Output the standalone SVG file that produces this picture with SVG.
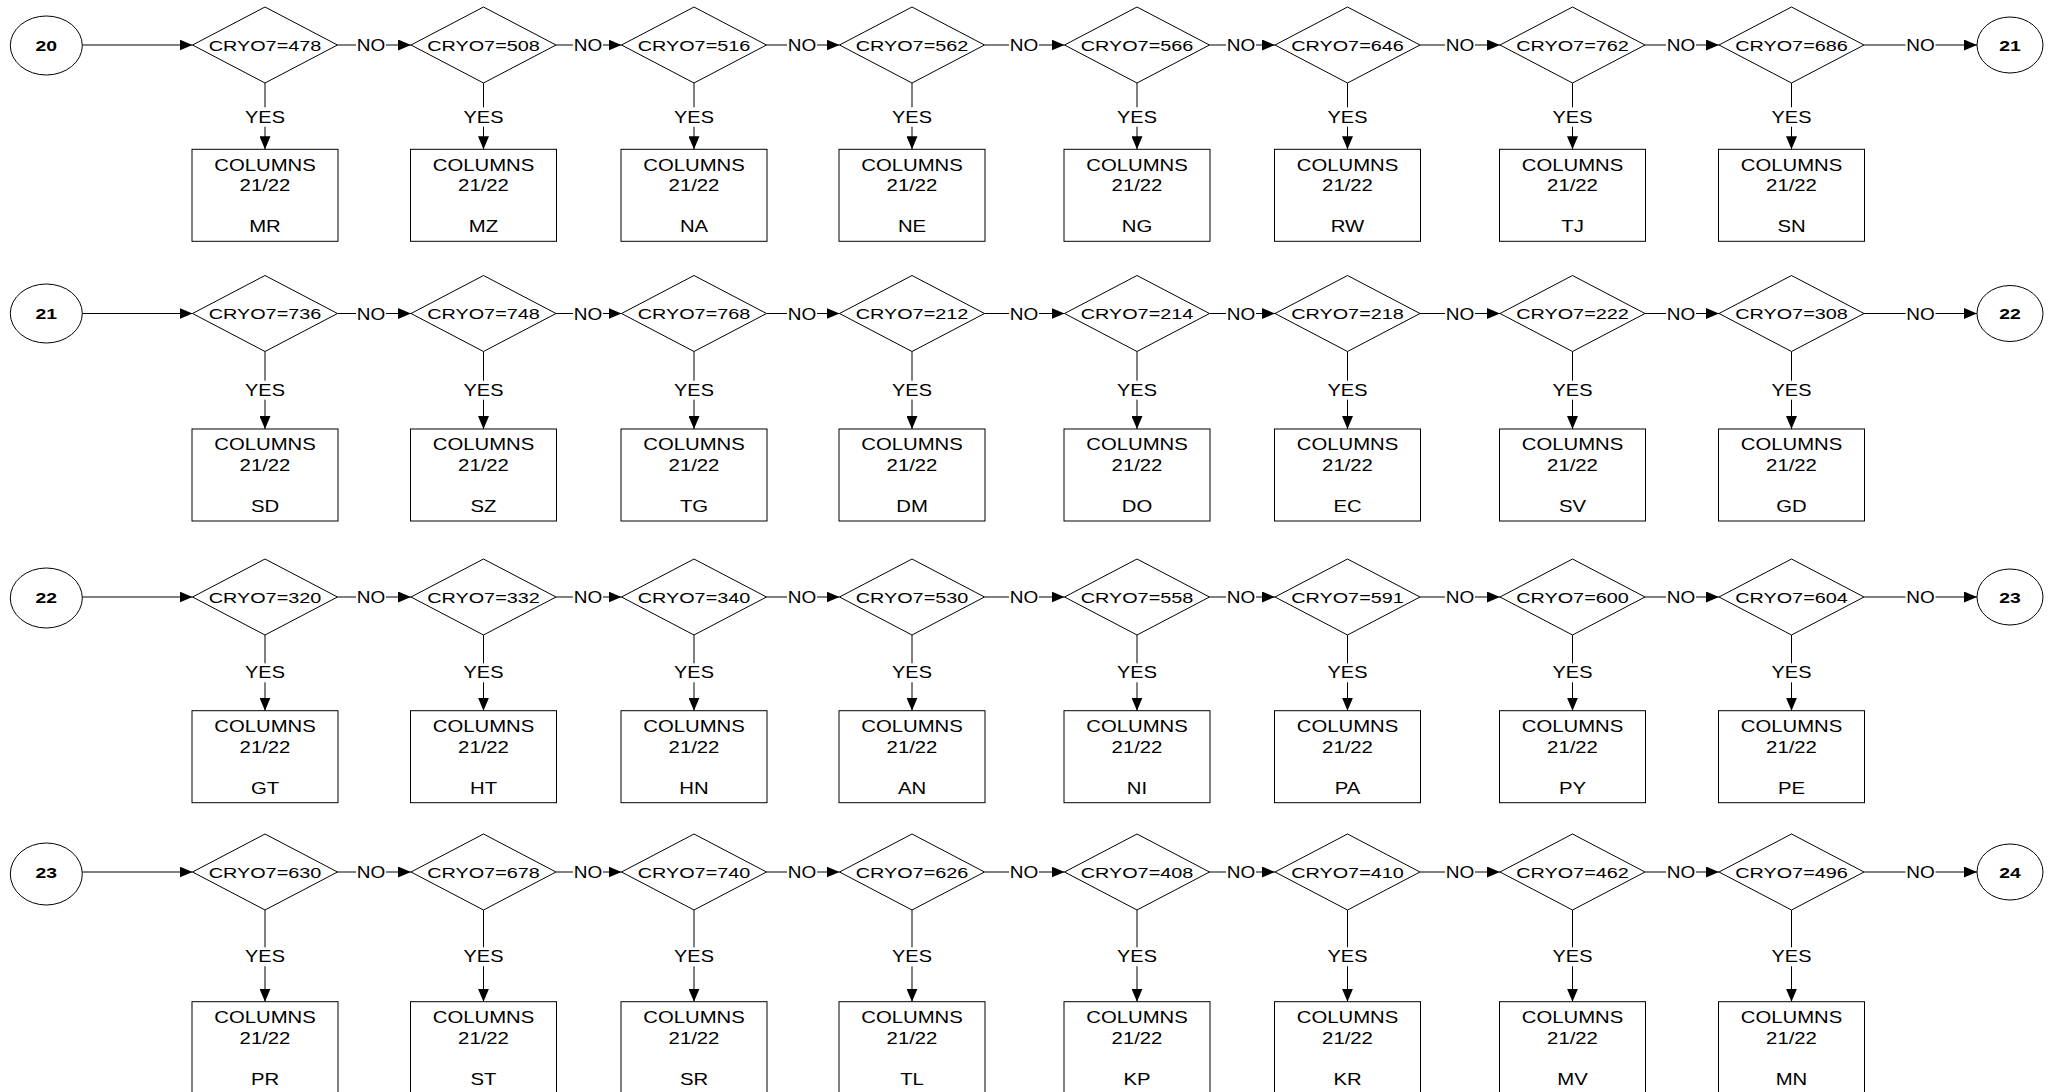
<svg xmlns="http://www.w3.org/2000/svg" width="2052" height="1092" viewBox="0 0 2052 1092">
<defs>
<marker id="ah" markerUnits="userSpaceOnUse" markerWidth="13" markerHeight="11" refX="13" refY="5.5" orient="auto"><path d="M0,0 L13,5.5 L0,11 z" fill="#000"/></marker>
<style>
.s{fill:#fff;stroke:#000;stroke-width:1}
#conn line{stroke:#000;stroke-width:1}
.a{marker-end:url(#ah)}
text{font-family:"Liberation Sans",Arial,sans-serif;fill:#000;text-anchor:middle}
.d{font-size:15.5px}
.b{font-size:16px}
.y{font-size:17px}
.n{font-size:16.5px}
.k{font-size:15.5px;font-weight:bold}
</style>
</defs>
<rect width="2052" height="1092" fill="#fff"/>

<g id="conn">
<line x1="82.3" y1="45" x2="192.5" y2="45" class="a"/>
<line x1="337.5" y1="45" x2="356" y2="45"/><line x1="386" y1="45" x2="411" y2="45" class="a"/>
<line x1="556" y1="45" x2="573" y2="45"/><line x1="603" y1="45" x2="621.5" y2="45" class="a"/>
<line x1="766.5" y1="45" x2="787" y2="45"/><line x1="817" y1="45" x2="839.5" y2="45" class="a"/>
<line x1="984.5" y1="45" x2="1009" y2="45"/><line x1="1039" y1="45" x2="1064.5" y2="45" class="a"/>
<line x1="1209.5" y1="45" x2="1226" y2="45"/><line x1="1256" y1="45" x2="1275" y2="45" class="a"/>
<line x1="1420" y1="45" x2="1445" y2="45"/><line x1="1475" y1="45" x2="1500" y2="45" class="a"/>
<line x1="1645" y1="45" x2="1666" y2="45"/><line x1="1696" y1="45" x2="1719" y2="45" class="a"/>
<line x1="1864" y1="45" x2="1905.5" y2="45"/><line x1="1935.5" y1="45" x2="1977" y2="45" class="a"/>
<line x1="265" y1="83" x2="265" y2="107.3"/><line x1="265" y1="126.7" x2="265" y2="149.3" class="a"/>
<line x1="483.5" y1="83" x2="483.5" y2="107.3"/><line x1="483.5" y1="126.7" x2="483.5" y2="149.3" class="a"/>
<line x1="694" y1="83" x2="694" y2="107.3"/><line x1="694" y1="126.7" x2="694" y2="149.3" class="a"/>
<line x1="912" y1="83" x2="912" y2="107.3"/><line x1="912" y1="126.7" x2="912" y2="149.3" class="a"/>
<line x1="1137" y1="83" x2="1137" y2="107.3"/><line x1="1137" y1="126.7" x2="1137" y2="149.3" class="a"/>
<line x1="1347.5" y1="83" x2="1347.5" y2="107.3"/><line x1="1347.5" y1="126.7" x2="1347.5" y2="149.3" class="a"/>
<line x1="1572.5" y1="83" x2="1572.5" y2="107.3"/><line x1="1572.5" y1="126.7" x2="1572.5" y2="149.3" class="a"/>
<line x1="1791.5" y1="83" x2="1791.5" y2="107.3"/><line x1="1791.5" y1="126.7" x2="1791.5" y2="149.3" class="a"/>
<line x1="82.3" y1="313.5" x2="192.5" y2="313.5" class="a"/>
<line x1="337.5" y1="313.5" x2="356" y2="313.5"/><line x1="386" y1="313.5" x2="411" y2="313.5" class="a"/>
<line x1="556" y1="313.5" x2="573" y2="313.5"/><line x1="603" y1="313.5" x2="621.5" y2="313.5" class="a"/>
<line x1="766.5" y1="313.5" x2="787" y2="313.5"/><line x1="817" y1="313.5" x2="839.5" y2="313.5" class="a"/>
<line x1="984.5" y1="313.5" x2="1009" y2="313.5"/><line x1="1039" y1="313.5" x2="1064.5" y2="313.5" class="a"/>
<line x1="1209.5" y1="313.5" x2="1226" y2="313.5"/><line x1="1256" y1="313.5" x2="1275" y2="313.5" class="a"/>
<line x1="1420" y1="313.5" x2="1445" y2="313.5"/><line x1="1475" y1="313.5" x2="1500" y2="313.5" class="a"/>
<line x1="1645" y1="313.5" x2="1666" y2="313.5"/><line x1="1696" y1="313.5" x2="1719" y2="313.5" class="a"/>
<line x1="1864" y1="313.5" x2="1905.5" y2="313.5"/><line x1="1935.5" y1="313.5" x2="1977" y2="313.5" class="a"/>
<line x1="265" y1="351.5" x2="265" y2="380.7"/><line x1="265" y1="399.7" x2="265" y2="429" class="a"/>
<line x1="483.5" y1="351.5" x2="483.5" y2="380.7"/><line x1="483.5" y1="399.7" x2="483.5" y2="429" class="a"/>
<line x1="694" y1="351.5" x2="694" y2="380.7"/><line x1="694" y1="399.7" x2="694" y2="429" class="a"/>
<line x1="912" y1="351.5" x2="912" y2="380.7"/><line x1="912" y1="399.7" x2="912" y2="429" class="a"/>
<line x1="1137" y1="351.5" x2="1137" y2="380.7"/><line x1="1137" y1="399.7" x2="1137" y2="429" class="a"/>
<line x1="1347.5" y1="351.5" x2="1347.5" y2="380.7"/><line x1="1347.5" y1="399.7" x2="1347.5" y2="429" class="a"/>
<line x1="1572.5" y1="351.5" x2="1572.5" y2="380.7"/><line x1="1572.5" y1="399.7" x2="1572.5" y2="429" class="a"/>
<line x1="1791.5" y1="351.5" x2="1791.5" y2="380.7"/><line x1="1791.5" y1="399.7" x2="1791.5" y2="429" class="a"/>
<line x1="82.3" y1="597" x2="192.5" y2="597" class="a"/>
<line x1="337.5" y1="597" x2="356" y2="597"/><line x1="386" y1="597" x2="411" y2="597" class="a"/>
<line x1="556" y1="597" x2="573" y2="597"/><line x1="603" y1="597" x2="621.5" y2="597" class="a"/>
<line x1="766.5" y1="597" x2="787" y2="597"/><line x1="817" y1="597" x2="839.5" y2="597" class="a"/>
<line x1="984.5" y1="597" x2="1009" y2="597"/><line x1="1039" y1="597" x2="1064.5" y2="597" class="a"/>
<line x1="1209.5" y1="597" x2="1226" y2="597"/><line x1="1256" y1="597" x2="1275" y2="597" class="a"/>
<line x1="1420" y1="597" x2="1445" y2="597"/><line x1="1475" y1="597" x2="1500" y2="597" class="a"/>
<line x1="1645" y1="597" x2="1666" y2="597"/><line x1="1696" y1="597" x2="1719" y2="597" class="a"/>
<line x1="1864" y1="597" x2="1905.5" y2="597"/><line x1="1935.5" y1="597" x2="1977" y2="597" class="a"/>
<line x1="265" y1="635" x2="265" y2="663.3"/><line x1="265" y1="682.3" x2="265" y2="710.7" class="a"/>
<line x1="483.5" y1="635" x2="483.5" y2="663.3"/><line x1="483.5" y1="682.3" x2="483.5" y2="710.7" class="a"/>
<line x1="694" y1="635" x2="694" y2="663.3"/><line x1="694" y1="682.3" x2="694" y2="710.7" class="a"/>
<line x1="912" y1="635" x2="912" y2="663.3"/><line x1="912" y1="682.3" x2="912" y2="710.7" class="a"/>
<line x1="1137" y1="635" x2="1137" y2="663.3"/><line x1="1137" y1="682.3" x2="1137" y2="710.7" class="a"/>
<line x1="1347.5" y1="635" x2="1347.5" y2="663.3"/><line x1="1347.5" y1="682.3" x2="1347.5" y2="710.7" class="a"/>
<line x1="1572.5" y1="635" x2="1572.5" y2="663.3"/><line x1="1572.5" y1="682.3" x2="1572.5" y2="710.7" class="a"/>
<line x1="1791.5" y1="635" x2="1791.5" y2="663.3"/><line x1="1791.5" y1="682.3" x2="1791.5" y2="710.7" class="a"/>
<line x1="82.3" y1="872" x2="192.5" y2="872" class="a"/>
<line x1="337.5" y1="872" x2="356" y2="872"/><line x1="386" y1="872" x2="411" y2="872" class="a"/>
<line x1="556" y1="872" x2="573" y2="872"/><line x1="603" y1="872" x2="621.5" y2="872" class="a"/>
<line x1="766.5" y1="872" x2="787" y2="872"/><line x1="817" y1="872" x2="839.5" y2="872" class="a"/>
<line x1="984.5" y1="872" x2="1009" y2="872"/><line x1="1039" y1="872" x2="1064.5" y2="872" class="a"/>
<line x1="1209.5" y1="872" x2="1226" y2="872"/><line x1="1256" y1="872" x2="1275" y2="872" class="a"/>
<line x1="1420" y1="872" x2="1445" y2="872"/><line x1="1475" y1="872" x2="1500" y2="872" class="a"/>
<line x1="1645" y1="872" x2="1666" y2="872"/><line x1="1696" y1="872" x2="1719" y2="872" class="a"/>
<line x1="1864" y1="872" x2="1905.5" y2="872"/><line x1="1935.5" y1="872" x2="1977" y2="872" class="a"/>
<line x1="265" y1="910" x2="265" y2="947.3"/><line x1="265" y1="966.3" x2="265" y2="1001.7" class="a"/>
<line x1="483.5" y1="910" x2="483.5" y2="947.3"/><line x1="483.5" y1="966.3" x2="483.5" y2="1001.7" class="a"/>
<line x1="694" y1="910" x2="694" y2="947.3"/><line x1="694" y1="966.3" x2="694" y2="1001.7" class="a"/>
<line x1="912" y1="910" x2="912" y2="947.3"/><line x1="912" y1="966.3" x2="912" y2="1001.7" class="a"/>
<line x1="1137" y1="910" x2="1137" y2="947.3"/><line x1="1137" y1="966.3" x2="1137" y2="1001.7" class="a"/>
<line x1="1347.5" y1="910" x2="1347.5" y2="947.3"/><line x1="1347.5" y1="966.3" x2="1347.5" y2="1001.7" class="a"/>
<line x1="1572.5" y1="910" x2="1572.5" y2="947.3"/><line x1="1572.5" y1="966.3" x2="1572.5" y2="1001.7" class="a"/>
<line x1="1791.5" y1="910" x2="1791.5" y2="947.3"/><line x1="1791.5" y1="966.3" x2="1791.5" y2="1001.7" class="a"/>
<g id="labels-r1">
<text class="n" transform="translate(371 51) scale(1.15 1)">NO</text><text class="n" transform="translate(588 51) scale(1.15 1)">NO</text><text class="n" transform="translate(802 51) scale(1.15 1)">NO</text><text class="n" transform="translate(1024 51) scale(1.15 1)">NO</text><text class="n" transform="translate(1241 51) scale(1.15 1)">NO</text><text class="n" transform="translate(1460 51) scale(1.15 1)">NO</text><text class="n" transform="translate(1681 51) scale(1.15 1)">NO</text><text class="n" transform="translate(1920.5 51) scale(1.15 1)">NO</text>
<text class="y" transform="translate(265 122.7) scale(1.17 1)">YES</text><text class="y" transform="translate(483.5 122.7) scale(1.17 1)">YES</text><text class="y" transform="translate(694 122.7) scale(1.17 1)">YES</text><text class="y" transform="translate(912 122.7) scale(1.17 1)">YES</text><text class="y" transform="translate(1137 122.7) scale(1.17 1)">YES</text><text class="y" transform="translate(1347.5 122.7) scale(1.17 1)">YES</text><text class="y" transform="translate(1572.5 122.7) scale(1.17 1)">YES</text><text class="y" transform="translate(1791.5 122.7) scale(1.17 1)">YES</text>
</g>
<g id="labels-r2">
<text class="n" transform="translate(371 319.5) scale(1.15 1)">NO</text><text class="n" transform="translate(588 319.5) scale(1.15 1)">NO</text><text class="n" transform="translate(802 319.5) scale(1.15 1)">NO</text><text class="n" transform="translate(1024 319.5) scale(1.15 1)">NO</text><text class="n" transform="translate(1241 319.5) scale(1.15 1)">NO</text><text class="n" transform="translate(1460 319.5) scale(1.15 1)">NO</text><text class="n" transform="translate(1681 319.5) scale(1.15 1)">NO</text><text class="n" transform="translate(1920.5 319.5) scale(1.15 1)">NO</text>
<text class="y" transform="translate(265 395.7) scale(1.17 1)">YES</text><text class="y" transform="translate(483.5 395.7) scale(1.17 1)">YES</text><text class="y" transform="translate(694 395.7) scale(1.17 1)">YES</text><text class="y" transform="translate(912 395.7) scale(1.17 1)">YES</text><text class="y" transform="translate(1137 395.7) scale(1.17 1)">YES</text><text class="y" transform="translate(1347.5 395.7) scale(1.17 1)">YES</text><text class="y" transform="translate(1572.5 395.7) scale(1.17 1)">YES</text><text class="y" transform="translate(1791.5 395.7) scale(1.17 1)">YES</text>
</g>
<g id="labels-r3">
<text class="n" transform="translate(371 603) scale(1.15 1)">NO</text><text class="n" transform="translate(588 603) scale(1.15 1)">NO</text><text class="n" transform="translate(802 603) scale(1.15 1)">NO</text><text class="n" transform="translate(1024 603) scale(1.15 1)">NO</text><text class="n" transform="translate(1241 603) scale(1.15 1)">NO</text><text class="n" transform="translate(1460 603) scale(1.15 1)">NO</text><text class="n" transform="translate(1681 603) scale(1.15 1)">NO</text><text class="n" transform="translate(1920.5 603) scale(1.15 1)">NO</text>
<text class="y" transform="translate(265 678.3) scale(1.17 1)">YES</text><text class="y" transform="translate(483.5 678.3) scale(1.17 1)">YES</text><text class="y" transform="translate(694 678.3) scale(1.17 1)">YES</text><text class="y" transform="translate(912 678.3) scale(1.17 1)">YES</text><text class="y" transform="translate(1137 678.3) scale(1.17 1)">YES</text><text class="y" transform="translate(1347.5 678.3) scale(1.17 1)">YES</text><text class="y" transform="translate(1572.5 678.3) scale(1.17 1)">YES</text><text class="y" transform="translate(1791.5 678.3) scale(1.17 1)">YES</text>
</g>
<g id="labels-r4">
<text class="n" transform="translate(371 878) scale(1.15 1)">NO</text><text class="n" transform="translate(588 878) scale(1.15 1)">NO</text><text class="n" transform="translate(802 878) scale(1.15 1)">NO</text><text class="n" transform="translate(1024 878) scale(1.15 1)">NO</text><text class="n" transform="translate(1241 878) scale(1.15 1)">NO</text><text class="n" transform="translate(1460 878) scale(1.15 1)">NO</text><text class="n" transform="translate(1681 878) scale(1.15 1)">NO</text><text class="n" transform="translate(1920.5 878) scale(1.15 1)">NO</text>
<text class="y" transform="translate(265 962.3) scale(1.17 1)">YES</text><text class="y" transform="translate(483.5 962.3) scale(1.17 1)">YES</text><text class="y" transform="translate(694 962.3) scale(1.17 1)">YES</text><text class="y" transform="translate(912 962.3) scale(1.17 1)">YES</text><text class="y" transform="translate(1137 962.3) scale(1.17 1)">YES</text><text class="y" transform="translate(1347.5 962.3) scale(1.17 1)">YES</text><text class="y" transform="translate(1572.5 962.3) scale(1.17 1)">YES</text><text class="y" transform="translate(1791.5 962.3) scale(1.17 1)">YES</text>
</g>
</g>

<g id="c20"><ellipse class="s" cx="46.3" cy="45.5" rx="36" ry="29.5"/><text class="k" transform="translate(46.3 51) scale(1.25 1)">20</text></g>
<g id="c21a"><ellipse class="s" cx="2010" cy="45" rx="33" ry="28"/><text class="k" transform="translate(2010 50.5) scale(1.25 1)">21</text></g>
<g id="c21b"><ellipse class="s" cx="46.3" cy="313.5" rx="36" ry="29.5"/><text class="k" transform="translate(46.3 319) scale(1.25 1)">21</text></g>
<g id="c22a"><ellipse class="s" cx="2010" cy="313.5" rx="33" ry="28"/><text class="k" transform="translate(2010 319) scale(1.25 1)">22</text></g>
<g id="c22b"><ellipse class="s" cx="46.3" cy="598" rx="36" ry="30"/><text class="k" transform="translate(46.3 602.5) scale(1.25 1)">22</text></g>
<g id="c23a"><ellipse class="s" cx="2010" cy="597" rx="33" ry="28"/><text class="k" transform="translate(2010 602.5) scale(1.25 1)">23</text></g>
<g id="c23b"><ellipse class="s" cx="46.3" cy="874" rx="36" ry="31"/><text class="k" transform="translate(46.3 877.5) scale(1.25 1)">23</text></g>
<g id="c24"><ellipse class="s" cx="2010" cy="872" rx="33" ry="28"/><text class="k" transform="translate(2010 877.5) scale(1.25 1)">24</text></g>

<g id="d478"><polygon class="s" points="192.5,45 265,7 337.5,45 265,83"/><text class="d" transform="translate(265 50.5) scale(1.28 1)">CRYO7=478</text></g>
<g id="d508"><polygon class="s" points="411,45 483.5,7 556,45 483.5,83"/><text class="d" transform="translate(483.5 50.5) scale(1.28 1)">CRYO7=508</text></g>
<g id="d516"><polygon class="s" points="621.5,45 694,7 766.5,45 694,83"/><text class="d" transform="translate(694 50.5) scale(1.28 1)">CRYO7=516</text></g>
<g id="d562"><polygon class="s" points="839.5,45 912,7 984.5,45 912,83"/><text class="d" transform="translate(912 50.5) scale(1.28 1)">CRYO7=562</text></g>
<g id="d566"><polygon class="s" points="1064.5,45 1137,7 1209.5,45 1137,83"/><text class="d" transform="translate(1137 50.5) scale(1.28 1)">CRYO7=566</text></g>
<g id="d646"><polygon class="s" points="1275,45 1347.5,7 1420,45 1347.5,83"/><text class="d" transform="translate(1347.5 50.5) scale(1.28 1)">CRYO7=646</text></g>
<g id="d762"><polygon class="s" points="1500,45 1572.5,7 1645,45 1572.5,83"/><text class="d" transform="translate(1572.5 50.5) scale(1.28 1)">CRYO7=762</text></g>
<g id="d686"><polygon class="s" points="1719,45 1791.5,7 1864,45 1791.5,83"/><text class="d" transform="translate(1791.5 50.5) scale(1.28 1)">CRYO7=686</text></g>
<g id="bMR"><rect class="s" x="192" y="149.3" width="146" height="92"/><text class="b" transform="translate(265 170.5) scale(1.27 1)">COLUMNS</text><text class="b" transform="translate(265 191) scale(1.27 1)">21/22</text><text class="b" transform="translate(265 232) scale(1.27 1)">MR</text></g>
<g id="bMZ"><rect class="s" x="410.5" y="149.3" width="146" height="92"/><text class="b" transform="translate(483.5 170.5) scale(1.27 1)">COLUMNS</text><text class="b" transform="translate(483.5 191) scale(1.27 1)">21/22</text><text class="b" transform="translate(483.5 232) scale(1.27 1)">MZ</text></g>
<g id="bNA"><rect class="s" x="621" y="149.3" width="146" height="92"/><text class="b" transform="translate(694 170.5) scale(1.27 1)">COLUMNS</text><text class="b" transform="translate(694 191) scale(1.27 1)">21/22</text><text class="b" transform="translate(694 232) scale(1.27 1)">NA</text></g>
<g id="bNE"><rect class="s" x="839" y="149.3" width="146" height="92"/><text class="b" transform="translate(912 170.5) scale(1.27 1)">COLUMNS</text><text class="b" transform="translate(912 191) scale(1.27 1)">21/22</text><text class="b" transform="translate(912 232) scale(1.27 1)">NE</text></g>
<g id="bNG"><rect class="s" x="1064" y="149.3" width="146" height="92"/><text class="b" transform="translate(1137 170.5) scale(1.27 1)">COLUMNS</text><text class="b" transform="translate(1137 191) scale(1.27 1)">21/22</text><text class="b" transform="translate(1137 232) scale(1.27 1)">NG</text></g>
<g id="bRW"><rect class="s" x="1274.5" y="149.3" width="146" height="92"/><text class="b" transform="translate(1347.5 170.5) scale(1.27 1)">COLUMNS</text><text class="b" transform="translate(1347.5 191) scale(1.27 1)">21/22</text><text class="b" transform="translate(1347.5 232) scale(1.27 1)">RW</text></g>
<g id="bTJ"><rect class="s" x="1499.5" y="149.3" width="146" height="92"/><text class="b" transform="translate(1572.5 170.5) scale(1.27 1)">COLUMNS</text><text class="b" transform="translate(1572.5 191) scale(1.27 1)">21/22</text><text class="b" transform="translate(1572.5 232) scale(1.27 1)">TJ</text></g>
<g id="bSN"><rect class="s" x="1718.5" y="149.3" width="146" height="92"/><text class="b" transform="translate(1791.5 170.5) scale(1.27 1)">COLUMNS</text><text class="b" transform="translate(1791.5 191) scale(1.27 1)">21/22</text><text class="b" transform="translate(1791.5 232) scale(1.27 1)">SN</text></g>

<g id="d736"><polygon class="s" points="192.5,313.5 265,275.5 337.5,313.5 265,351.5"/><text class="d" transform="translate(265 319) scale(1.28 1)">CRYO7=736</text></g>
<g id="d748"><polygon class="s" points="411,313.5 483.5,275.5 556,313.5 483.5,351.5"/><text class="d" transform="translate(483.5 319) scale(1.28 1)">CRYO7=748</text></g>
<g id="d768"><polygon class="s" points="621.5,313.5 694,275.5 766.5,313.5 694,351.5"/><text class="d" transform="translate(694 319) scale(1.28 1)">CRYO7=768</text></g>
<g id="d212"><polygon class="s" points="839.5,313.5 912,275.5 984.5,313.5 912,351.5"/><text class="d" transform="translate(912 319) scale(1.28 1)">CRYO7=212</text></g>
<g id="d214"><polygon class="s" points="1064.5,313.5 1137,275.5 1209.5,313.5 1137,351.5"/><text class="d" transform="translate(1137 319) scale(1.28 1)">CRYO7=214</text></g>
<g id="d218"><polygon class="s" points="1275,313.5 1347.5,275.5 1420,313.5 1347.5,351.5"/><text class="d" transform="translate(1347.5 319) scale(1.28 1)">CRYO7=218</text></g>
<g id="d222"><polygon class="s" points="1500,313.5 1572.5,275.5 1645,313.5 1572.5,351.5"/><text class="d" transform="translate(1572.5 319) scale(1.28 1)">CRYO7=222</text></g>
<g id="d308"><polygon class="s" points="1719,313.5 1791.5,275.5 1864,313.5 1791.5,351.5"/><text class="d" transform="translate(1791.5 319) scale(1.28 1)">CRYO7=308</text></g>
<g id="bSD"><rect class="s" x="192" y="429" width="146" height="92"/><text class="b" transform="translate(265 450) scale(1.27 1)">COLUMNS</text><text class="b" transform="translate(265 470.7) scale(1.27 1)">21/22</text><text class="b" transform="translate(265 511.7) scale(1.27 1)">SD</text></g>
<g id="bSZ"><rect class="s" x="410.5" y="429" width="146" height="92"/><text class="b" transform="translate(483.5 450) scale(1.27 1)">COLUMNS</text><text class="b" transform="translate(483.5 470.7) scale(1.27 1)">21/22</text><text class="b" transform="translate(483.5 511.7) scale(1.27 1)">SZ</text></g>
<g id="bTG"><rect class="s" x="621" y="429" width="146" height="92"/><text class="b" transform="translate(694 450) scale(1.27 1)">COLUMNS</text><text class="b" transform="translate(694 470.7) scale(1.27 1)">21/22</text><text class="b" transform="translate(694 511.7) scale(1.27 1)">TG</text></g>
<g id="bDM"><rect class="s" x="839" y="429" width="146" height="92"/><text class="b" transform="translate(912 450) scale(1.27 1)">COLUMNS</text><text class="b" transform="translate(912 470.7) scale(1.27 1)">21/22</text><text class="b" transform="translate(912 511.7) scale(1.27 1)">DM</text></g>
<g id="bDO"><rect class="s" x="1064" y="429" width="146" height="92"/><text class="b" transform="translate(1137 450) scale(1.27 1)">COLUMNS</text><text class="b" transform="translate(1137 470.7) scale(1.27 1)">21/22</text><text class="b" transform="translate(1137 511.7) scale(1.27 1)">DO</text></g>
<g id="bEC"><rect class="s" x="1274.5" y="429" width="146" height="92"/><text class="b" transform="translate(1347.5 450) scale(1.27 1)">COLUMNS</text><text class="b" transform="translate(1347.5 470.7) scale(1.27 1)">21/22</text><text class="b" transform="translate(1347.5 511.7) scale(1.27 1)">EC</text></g>
<g id="bSV"><rect class="s" x="1499.5" y="429" width="146" height="92"/><text class="b" transform="translate(1572.5 450) scale(1.27 1)">COLUMNS</text><text class="b" transform="translate(1572.5 470.7) scale(1.27 1)">21/22</text><text class="b" transform="translate(1572.5 511.7) scale(1.27 1)">SV</text></g>
<g id="bGD"><rect class="s" x="1718.5" y="429" width="146" height="92"/><text class="b" transform="translate(1791.5 450) scale(1.27 1)">COLUMNS</text><text class="b" transform="translate(1791.5 470.7) scale(1.27 1)">21/22</text><text class="b" transform="translate(1791.5 511.7) scale(1.27 1)">GD</text></g>

<g id="d320"><polygon class="s" points="192.5,597 265,559 337.5,597 265,635"/><text class="d" transform="translate(265 602.5) scale(1.28 1)">CRYO7=320</text></g>
<g id="d332"><polygon class="s" points="411,597 483.5,559 556,597 483.5,635"/><text class="d" transform="translate(483.5 602.5) scale(1.28 1)">CRYO7=332</text></g>
<g id="d340"><polygon class="s" points="621.5,597 694,559 766.5,597 694,635"/><text class="d" transform="translate(694 602.5) scale(1.28 1)">CRYO7=340</text></g>
<g id="d530"><polygon class="s" points="839.5,597 912,559 984.5,597 912,635"/><text class="d" transform="translate(912 602.5) scale(1.28 1)">CRYO7=530</text></g>
<g id="d558"><polygon class="s" points="1064.5,597 1137,559 1209.5,597 1137,635"/><text class="d" transform="translate(1137 602.5) scale(1.28 1)">CRYO7=558</text></g>
<g id="d591"><polygon class="s" points="1275,597 1347.5,559 1420,597 1347.5,635"/><text class="d" transform="translate(1347.5 602.5) scale(1.28 1)">CRYO7=591</text></g>
<g id="d600"><polygon class="s" points="1500,597 1572.5,559 1645,597 1572.5,635"/><text class="d" transform="translate(1572.5 602.5) scale(1.28 1)">CRYO7=600</text></g>
<g id="d604"><polygon class="s" points="1719,597 1791.5,559 1864,597 1791.5,635"/><text class="d" transform="translate(1791.5 602.5) scale(1.28 1)">CRYO7=604</text></g>
<g id="bGT"><rect class="s" x="192" y="710.7" width="146" height="92"/><text class="b" transform="translate(265 731.7) scale(1.27 1)">COLUMNS</text><text class="b" transform="translate(265 752.5) scale(1.27 1)">21/22</text><text class="b" transform="translate(265 793.5) scale(1.27 1)">GT</text></g>
<g id="bHT"><rect class="s" x="410.5" y="710.7" width="146" height="92"/><text class="b" transform="translate(483.5 731.7) scale(1.27 1)">COLUMNS</text><text class="b" transform="translate(483.5 752.5) scale(1.27 1)">21/22</text><text class="b" transform="translate(483.5 793.5) scale(1.27 1)">HT</text></g>
<g id="bHN"><rect class="s" x="621" y="710.7" width="146" height="92"/><text class="b" transform="translate(694 731.7) scale(1.27 1)">COLUMNS</text><text class="b" transform="translate(694 752.5) scale(1.27 1)">21/22</text><text class="b" transform="translate(694 793.5) scale(1.27 1)">HN</text></g>
<g id="bAN"><rect class="s" x="839" y="710.7" width="146" height="92"/><text class="b" transform="translate(912 731.7) scale(1.27 1)">COLUMNS</text><text class="b" transform="translate(912 752.5) scale(1.27 1)">21/22</text><text class="b" transform="translate(912 793.5) scale(1.27 1)">AN</text></g>
<g id="bNI"><rect class="s" x="1064" y="710.7" width="146" height="92"/><text class="b" transform="translate(1137 731.7) scale(1.27 1)">COLUMNS</text><text class="b" transform="translate(1137 752.5) scale(1.27 1)">21/22</text><text class="b" transform="translate(1137 793.5) scale(1.27 1)">NI</text></g>
<g id="bPA"><rect class="s" x="1274.5" y="710.7" width="146" height="92"/><text class="b" transform="translate(1347.5 731.7) scale(1.27 1)">COLUMNS</text><text class="b" transform="translate(1347.5 752.5) scale(1.27 1)">21/22</text><text class="b" transform="translate(1347.5 793.5) scale(1.27 1)">PA</text></g>
<g id="bPY"><rect class="s" x="1499.5" y="710.7" width="146" height="92"/><text class="b" transform="translate(1572.5 731.7) scale(1.27 1)">COLUMNS</text><text class="b" transform="translate(1572.5 752.5) scale(1.27 1)">21/22</text><text class="b" transform="translate(1572.5 793.5) scale(1.27 1)">PY</text></g>
<g id="bPE"><rect class="s" x="1718.5" y="710.7" width="146" height="92"/><text class="b" transform="translate(1791.5 731.7) scale(1.27 1)">COLUMNS</text><text class="b" transform="translate(1791.5 752.5) scale(1.27 1)">21/22</text><text class="b" transform="translate(1791.5 793.5) scale(1.27 1)">PE</text></g>

<g id="d630"><polygon class="s" points="192.5,872 265,834 337.5,872 265,910"/><text class="d" transform="translate(265 877.5) scale(1.28 1)">CRYO7=630</text></g>
<g id="d678"><polygon class="s" points="411,872 483.5,834 556,872 483.5,910"/><text class="d" transform="translate(483.5 877.5) scale(1.28 1)">CRYO7=678</text></g>
<g id="d740"><polygon class="s" points="621.5,872 694,834 766.5,872 694,910"/><text class="d" transform="translate(694 877.5) scale(1.28 1)">CRYO7=740</text></g>
<g id="d626"><polygon class="s" points="839.5,872 912,834 984.5,872 912,910"/><text class="d" transform="translate(912 877.5) scale(1.28 1)">CRYO7=626</text></g>
<g id="d408"><polygon class="s" points="1064.5,872 1137,834 1209.5,872 1137,910"/><text class="d" transform="translate(1137 877.5) scale(1.28 1)">CRYO7=408</text></g>
<g id="d410"><polygon class="s" points="1275,872 1347.5,834 1420,872 1347.5,910"/><text class="d" transform="translate(1347.5 877.5) scale(1.28 1)">CRYO7=410</text></g>
<g id="d462"><polygon class="s" points="1500,872 1572.5,834 1645,872 1572.5,910"/><text class="d" transform="translate(1572.5 877.5) scale(1.28 1)">CRYO7=462</text></g>
<g id="d496"><polygon class="s" points="1719,872 1791.5,834 1864,872 1791.5,910"/><text class="d" transform="translate(1791.5 877.5) scale(1.28 1)">CRYO7=496</text></g>
<g id="bPR"><rect class="s" x="192" y="1001.7" width="146" height="92"/><text class="b" transform="translate(265 1022.7) scale(1.27 1)">COLUMNS</text><text class="b" transform="translate(265 1043.5) scale(1.27 1)">21/22</text><text class="b" transform="translate(265 1084.5) scale(1.27 1)">PR</text></g>
<g id="bST"><rect class="s" x="410.5" y="1001.7" width="146" height="92"/><text class="b" transform="translate(483.5 1022.7) scale(1.27 1)">COLUMNS</text><text class="b" transform="translate(483.5 1043.5) scale(1.27 1)">21/22</text><text class="b" transform="translate(483.5 1084.5) scale(1.27 1)">ST</text></g>
<g id="bSR"><rect class="s" x="621" y="1001.7" width="146" height="92"/><text class="b" transform="translate(694 1022.7) scale(1.27 1)">COLUMNS</text><text class="b" transform="translate(694 1043.5) scale(1.27 1)">21/22</text><text class="b" transform="translate(694 1084.5) scale(1.27 1)">SR</text></g>
<g id="bTL"><rect class="s" x="839" y="1001.7" width="146" height="92"/><text class="b" transform="translate(912 1022.7) scale(1.27 1)">COLUMNS</text><text class="b" transform="translate(912 1043.5) scale(1.27 1)">21/22</text><text class="b" transform="translate(912 1084.5) scale(1.27 1)">TL</text></g>
<g id="bKP"><rect class="s" x="1064" y="1001.7" width="146" height="92"/><text class="b" transform="translate(1137 1022.7) scale(1.27 1)">COLUMNS</text><text class="b" transform="translate(1137 1043.5) scale(1.27 1)">21/22</text><text class="b" transform="translate(1137 1084.5) scale(1.27 1)">KP</text></g>
<g id="bKR"><rect class="s" x="1274.5" y="1001.7" width="146" height="92"/><text class="b" transform="translate(1347.5 1022.7) scale(1.27 1)">COLUMNS</text><text class="b" transform="translate(1347.5 1043.5) scale(1.27 1)">21/22</text><text class="b" transform="translate(1347.5 1084.5) scale(1.27 1)">KR</text></g>
<g id="bMV"><rect class="s" x="1499.5" y="1001.7" width="146" height="92"/><text class="b" transform="translate(1572.5 1022.7) scale(1.27 1)">COLUMNS</text><text class="b" transform="translate(1572.5 1043.5) scale(1.27 1)">21/22</text><text class="b" transform="translate(1572.5 1084.5) scale(1.27 1)">MV</text></g>
<g id="bMN"><rect class="s" x="1718.5" y="1001.7" width="146" height="92"/><text class="b" transform="translate(1791.5 1022.7) scale(1.27 1)">COLUMNS</text><text class="b" transform="translate(1791.5 1043.5) scale(1.27 1)">21/22</text><text class="b" transform="translate(1791.5 1084.5) scale(1.27 1)">MN</text></g>
</svg>
